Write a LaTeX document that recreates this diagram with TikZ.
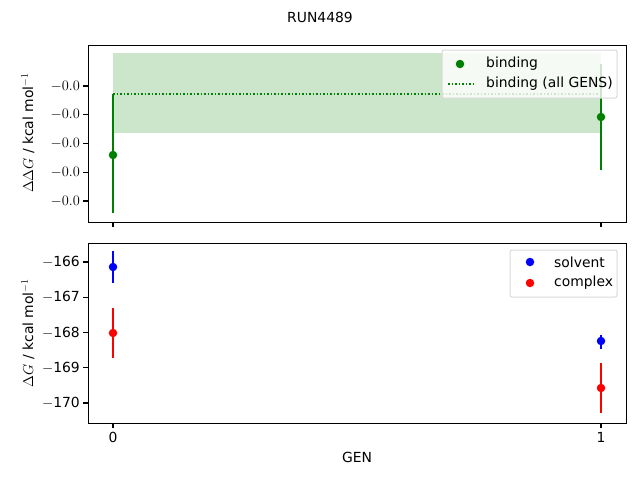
\documentclass[tikz,border=0pt]{standalone}
\usepackage{fontspec}
\setmainfont{DejaVu Sans}
\definecolor{mplgreen}{RGB}{0,128,0}
\begin{document}
\begin{tikzpicture}[x=1pt,y=-1pt,
        txt/.style={font=\fontsize{13.9}{16}\selectfont, inner sep=0pt},
        tick/.style={line width=1.1pt},
        errbar/.style={line width=2pt},
        dot/.style={circle, inner sep=0pt, minimum size=8.5pt},
        legbox/.style={draw=black!15, fill=white, fill opacity=0.8, rounded corners=2pt, line width=1pt},
    ]
        \useasboundingbox (0,0) rectangle (640,480);
        \node (title) [txt] at (320,17) {RUN4489};

        % top panel
        \fill[mplgreen, opacity=0.2] (113,53) rectangle (601,133);
        \draw[mplgreen, dotted, line width=1.5pt] (113,94) -- (601,94);
        \draw[errbar, mplgreen] (113,94) -- (113,213);
        \draw[errbar, mplgreen] (601,64) -- (601,170);
        \node (bind0) [dot, fill=mplgreen] at (113,155) {};
        \node (bind1) [dot, fill=mplgreen] at (601,117) {};
        \draw[line width=1pt] (88,45) rectangle (626,222);
        \foreach \v/\y in {-0.5/86, -1.0/144, -1.5/201, -2.0/259, -2.5/316} {
            \pgfmathsetmacro{\py}{86+(-0.5-\v)*57.5}
            \draw[tick] (88,\py) -- (83,\py);
            \node[txt, anchor=east] at (80,\py) {$-$\ifdim\v pt<0pt\fi\pgfmathprintnumber[fixed,precision=1,fixed zerofill]{\the\numexpr0\relax}};
        }
        \foreach \x in {113,601} \draw[tick] (\x,222) -- (\x,227);
        \node (ylabTop) [txt, rotate=90] at (28,133) {$\Delta\Delta G$ / kcal mol$^{-1}$};

        % top legend
        \draw[legbox] (442,50) rectangle (617,98);
        \node (legBind) [dot, fill=mplgreen] at (460,64) {};
        \node [txt, anchor=west] at (486,64) {binding};
        \draw[mplgreen, dotted, line width=1.5pt] (448,84) -- (475,84);
        \node [txt, anchor=west] at (486,84) {binding (all GENS)};

        % bottom panel
        \draw[errbar, blue] (113,251) -- (113,283);
        \draw[errbar, red] (113,308) -- (113,358);
        \draw[errbar, blue] (601,335) -- (601,349);
        \draw[errbar, red] (601,363) -- (601,413);
        \node (solv0) [dot, fill=blue] at (113,267) {};
        \node (comp0) [dot, fill=red] at (113,333) {};
        \node (solv1) [dot, fill=blue] at (601,341) {};
        \node (comp1) [dot, fill=red] at (601,388) {};
        \draw[line width=1pt] (88,243) rectangle (626,423);
        \foreach \v in {166,167,168,169,170} {
            \pgfmathsetmacro{\py}{262+(\v-166)*35.25}
            \draw[tick] (88,\py) -- (83,\py);
            \node[txt, anchor=east] at (80,\py) {$-$\v};
        }
        \foreach \x/\l in {113/0, 601/1} {
            \draw[tick] (\x,423) -- (\x,428);
            \node[txt, anchor=north] at (\x,432) {\l};
        }
        \node (ylabBot) [txt, rotate=90] at (28,333) {$\Delta G$ / kcal mol$^{-1}$};
        \node (xlab) [txt] at (357,457) {GEN};

        % bottom legend
        \draw[legbox] (510,250) rectangle (617,297);
        \node (legSolv) [dot, fill=blue] at (530,262) {};
        \node [txt, anchor=west] at (554,262) {solvent};
        \node (legComp) [dot, fill=red] at (530,283) {};
        \node [txt, anchor=west] at (554,283) {complex};
\end{tikzpicture}
\end{document}
